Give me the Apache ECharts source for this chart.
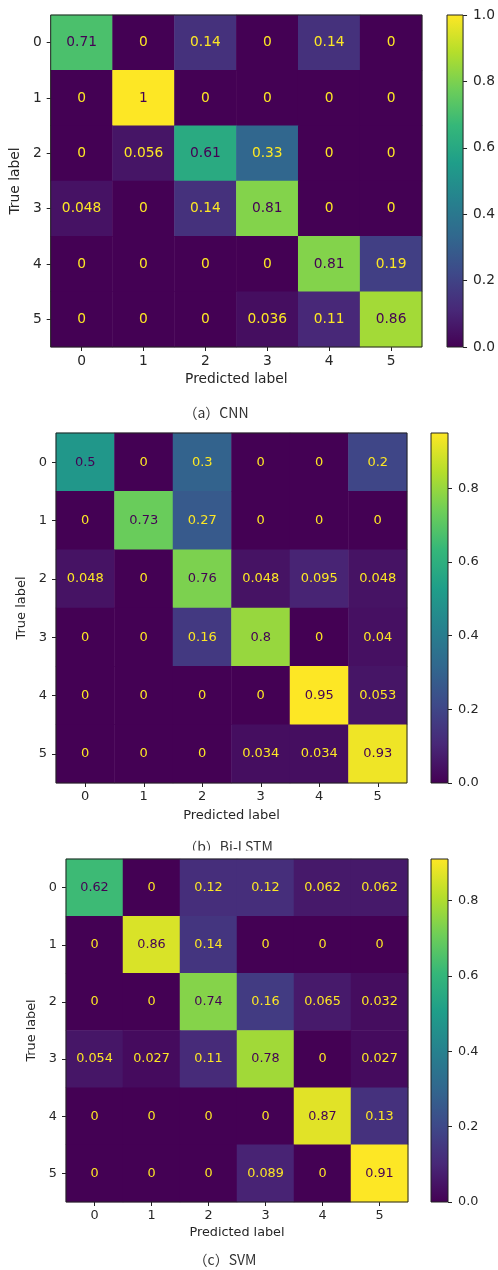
<!DOCTYPE html>
<html>
<head>
<meta charset="utf-8">
<script src="https://cdn.jsdelivr.net/npm/echarts@6/dist/echarts.min.js"></script>
<style>
  html, body { margin: 0; padding: 0; background: #ffffff; }
  #chart { width: 498px; height: 1270px; }
</style>
</head>
<body>
<div id="chart"></div>
<script>
// Class labels shared by both axes of every confusion matrix
const classLabels = ['0', '1', '2', '3', '4', '5'];

// Row-normalised confusion matrices (rows = true label, columns = predicted label)
const cnnMatrix = [
  [0.71, 0, 0.14, 0, 0.14, 0],
  [0, 1, 0, 0, 0, 0],
  [0, 0.056, 0.61, 0.33, 0, 0],
  [0.048, 0, 0.14, 0.81, 0, 0],
  [0, 0, 0, 0, 0.81, 0.19],
  [0, 0, 0, 0.036, 0.11, 0.86]
];
const bilstmMatrix = [
  [0.5, 0, 0.3, 0, 0, 0.2],
  [0, 0.73, 0.27, 0, 0, 0],
  [0.048, 0, 0.76, 0.048, 0.095, 0.048],
  [0, 0, 0.16, 0.8, 0, 0.04],
  [0, 0, 0, 0, 0.95, 0.053],
  [0, 0, 0, 0.034, 0.034, 0.93]
];
const svmMatrix = [
  [0.62, 0, 0.12, 0.12, 0.062, 0.062],
  [0, 0.86, 0.14, 0, 0, 0],
  [0, 0, 0.74, 0.16, 0.065, 0.032],
  [0.054, 0.027, 0.11, 0.78, 0, 0.027],
  [0, 0, 0, 0, 0.87, 0.13],
  [0, 0, 0, 0.089, 0, 0.91]
];

// Colour bar tick values
const cbTicksFull = [0, 0.2, 0.4, 0.6, 0.8, 1.0];
const cbTicksShort = [0, 0.2, 0.4, 0.6, 0.8];

// Sub-figure captions
const captions = ['（a）CNN', '（b）Bi-LSTM', '（c）SVM'];

// Viridis colour map
const viridis = ['#440154', '#482878', '#3e4989', '#31688e', '#26828e',
                 '#1f9e89', '#35b779', '#6ece58', '#b5de2b', '#fde725'];

const panels = [
  { matrix: cnnMatrix, ticks: cbTicksFull, caption: captions[0],
    grid: { left: 49, top: 15, width: 373, height: 332 },
    bar: { left: 447, top: 15, width: 18, height: 332 },
    font: 13.8, nameGapX: 25, nameGapY: 23, cap: [216, 413] },
  { matrix: bilstmMatrix, ticks: cbTicksShort, caption: captions[1],
    grid: { left: 56, top: 433, width: 351, height: 350 },
    bar: { left: 431, top: 433, width: 17, height: 350 },
    font: 13, nameGapX: 26, nameGapY: 23, cap: [228, 847] },
  { matrix: svmMatrix, ticks: cbTicksShort, caption: captions[2],
    grid: { left: 66, top: 859, width: 342, height: 343 },
    bar: { left: 431, top: 859, width: 17, height: 343 },
    font: 12.8, nameGapX: 24, nameGapY: 23, cap: [225, 1260] }
];

const FONT = '"DejaVu Sans", sans-serif';
const INK = '#262626';
const FRAME = '#222222';

const grids = [], xAxes = [], yAxes = [], series = [], visualMaps = [], graphics = [];

panels.forEach(function (p, k) {
  const maxVal = Math.max.apply(null, p.matrix.map(function (r) { return Math.max.apply(null, r); }));
  const thresh = maxVal / 2;

  // heatmap grid
  grids.push(Object.assign({ show: true, z: 10, borderColor: FRAME, borderWidth: 1,
    backgroundColor: 'transparent' }, p.grid));
  const gi = grids.length - 1;
  xAxes.push({
    gridIndex: gi, type: 'category', data: classLabels, position: 'bottom',
    axisLine: { show: false },
    axisTick: { show: true, alignWithLabel: true, length: 4, lineStyle: { color: FRAME } },
    axisLabel: { margin: 7, fontSize: p.font, color: INK, fontFamily: FONT },
    splitLine: { show: false }, splitArea: { show: false },
    name: 'Predicted label', nameLocation: 'middle', nameGap: p.nameGapX,
    nameTextStyle: { fontSize: p.font, color: INK, fontFamily: FONT }
  });
  yAxes.push({
    gridIndex: gi, type: 'category', data: classLabels, inverse: true,
    axisLine: { show: false },
    axisTick: { show: true, alignWithLabel: true, length: 4, lineStyle: { color: FRAME } },
    axisLabel: { margin: 9, fontSize: p.font, color: INK, fontFamily: FONT },
    splitLine: { show: false }, splitArea: { show: false },
    name: 'True label', nameLocation: 'middle', nameGap: p.nameGapY,
    nameTextStyle: { fontSize: p.font, color: INK, fontFamily: FONT }
  });
  const cells = [];
  p.matrix.forEach(function (row, r) {
    row.forEach(function (v, c) {
      cells.push({ value: [c, r, v],
        label: { color: v < thresh ? viridis[viridis.length - 1] : viridis[0] } });
    });
  });
  series.push({
    type: 'heatmap', xAxisIndex: xAxes.length - 1, yAxisIndex: yAxes.length - 1,
    data: cells,
    label: { show: true, fontSize: p.font, fontFamily: FONT,
      formatter: function (d) { return String(d.value[2]); } },
    emphasis: { disabled: true }
  });
  visualMaps.push({
    show: false, type: 'continuous', seriesIndex: series.length - 1, dimension: 2,
    min: 0, max: maxVal, inRange: { color: viridis }
  });

  // colour bar
  grids.push(Object.assign({ show: true, z: 10, borderColor: FRAME, borderWidth: 1,
    backgroundColor: 'transparent' }, p.bar));
  const bi = grids.length - 1;
  xAxes.push({ gridIndex: bi, type: 'category', data: ['cb'], show: false });
  yAxes.push({
    gridIndex: bi, type: 'value', min: 0, max: maxVal, position: 'right',
    axisLine: { show: false },
    axisTick: { show: true, length: 4, customValues: p.ticks, lineStyle: { color: FRAME } },
    axisLabel: { margin: 10, fontSize: p.font, color: INK, fontFamily: FONT,
      customValues: p.ticks, formatter: function (v) { return v.toFixed(1); } },
    splitLine: { show: false }
  });
  series.push({
    type: 'bar', xAxisIndex: xAxes.length - 1, yAxisIndex: yAxes.length - 1,
    data: [maxVal], barWidth: '100%', silent: true,
    itemStyle: { color: new echarts.graphic.LinearGradient(0, 1, 0, 0,
      viridis.map(function (c, i) { return { offset: i / (viridis.length - 1), color: c }; })) }
  });

  graphics.push({
    type: 'text', x: p.cap[0], y: p.cap[1], z: 20,
    style: { text: p.caption, align: 'center', verticalAlign: 'middle',
      font: '14px "Noto Sans CJK SC", "Noto Sans", sans-serif', fill: '#333333' }
  });
});

// the lower sub-figure sits tight against the (b) caption and trims its bottom edge
graphics.push({ type: 'rect', z: 30, shape: { x: 150, y: 850.5, width: 160, height: 7.5 },
  style: { fill: '#ffffff' } });

const chart = echarts.init(document.getElementById('chart'), null, { renderer: 'canvas' });
chart.setOption({
  animation: false,
  backgroundColor: '#ffffff',
  grid: grids,
  xAxis: xAxes,
  yAxis: yAxes,
  visualMap: visualMaps,
  series: series,
  graphic: graphics
});
</script>
</body>
</html>
